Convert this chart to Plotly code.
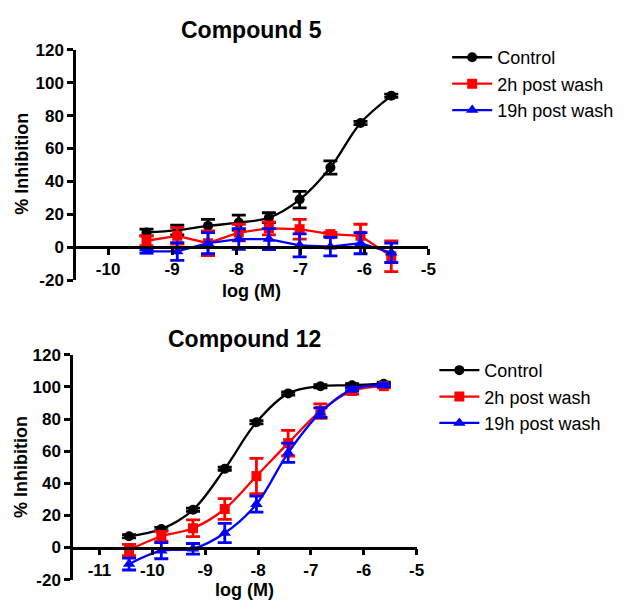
import plotly.graph_objects as go

# ---------------- data ----------------
series_names = ["Control", "2h post wash", "19h post wash"]
series_colors = ["#000000", "#ff0000", "#0000ff"]
series_symbols = ["circle", "square", "triangle-up"]

# Compound 5 (3-fold dilutions)
c5_logM = [-9.40, -8.92, -8.44, -7.96, -7.49, -7.01, -6.53, -6.06, -5.58]
c5_control = [9, 10.5, 13, 15, 18, 29, 48.5, 75.5, 92]
c5_control_err = [2, 3, 4, 4.5, 3, 5, 4, 1, 1]
c5_2h = [4, 7, 2.5, 9, 11.5, 11, 8, 7, -5.4]
c5_2h_err = [3, 5, 7.5, 5, 4, 6, 1, 7, 9.3]
c5_19h = [-2.5, -2.5, 2.5, 5, 5, 1.2, 0.4, 2.5, -3.3]
c5_19h_err = [1, 5.4, 6.4, 6.3, 6.4, 7, 5.6, 6.4, 5.9]

# Compound 12 (4-fold dilutions)
c12_logM = [-10.44, -9.83, -9.23, -8.63, -8.03, -7.43, -6.82, -6.22, -5.62]
c12_control = [7, 11.5, 23.5, 49, 78, 96, 100.5, 101, 102]
c12_control_err = [1, 1, 1, 1, 1, 1, 1, 1, 1]
c12_2h = [-1.5, 7, 12, 24, 44.5, 65, 85, 97.5, 100.5]
c12_2h_err = [3.5, 3, 5.2, 6.5, 11, 8, 4.5, 2, 1]
c12_19h = [-10.3, -2, -0.8, 9, 27, 59, 84, 98.5, 101]
c12_19h_err = [3.7, 5, 3.3, 6, 5, 6, 3, 1, 1]

y_ticks = [-20, 0, 20, 40, 60, 80, 100, 120]
y_ticktext = ["-20", "0", "20", "40", "60", "80", "100", "120"]
c5_xticks = [-10, -9, -8, -7, -6, -5]
c5_xticktext = ["-10", "-9", "-8", "-7", "-6", "-5"]
c12_xticks = [-11, -10, -9, -8, -7, -6, -5]
c12_xticktext = ["-11", "-10", "-9", "-8", "-7", "-6", "-5"]

# ---------------- layout geometry ----------------
W, H = 624, 609
FONT = "Arial, Liberation Sans, sans-serif"

def px_x(p):
    return p / W

def px_y(p):
    return 1 - p / H

top_xdom = [px_x(77), px_x(434)]
top_ydom = [px_y(280), px_y(42)]
bot_xdom = [px_x(74), px_x(422)]
bot_ydom = [px_y(589), px_y(357)]
y_range = [-20, 120]

def zero_pos(ydom):
    return ydom[0] + (0 - y_range[0]) / (y_range[1] - y_range[0]) * (ydom[1] - ydom[0])

fig = go.Figure()

top_sets = [(c5_control, c5_control_err, "spline"),
            (c5_2h, c5_2h_err, "linear"),
            (c5_19h, c5_19h_err, "linear")]
bot_sets = [(c12_control, c12_control_err, "spline"),
            (c12_2h, c12_2h_err, "spline"),
            (c12_19h, c12_19h_err, "spline")]

msize = [10, 10, 11]

for i, (vals, errs, shape) in enumerate(top_sets):
    fig.add_trace(go.Scatter(
        x=c5_logM, y=vals, name=series_names[i], mode="lines+markers",
        line=dict(color=series_colors[i], width=2.3, shape=shape, smoothing=1.0),
        marker=dict(symbol=series_symbols[i], size=msize[i], color=series_colors[i]),
        error_y=dict(type="data", array=errs, color=series_colors[i], thickness=2.8, width=7),
        xaxis="x", yaxis="y", legend="legend", cliponaxis=False,
    ))

for i, (vals, errs, shape) in enumerate(bot_sets):
    fig.add_trace(go.Scatter(
        x=c12_logM, y=vals, name=series_names[i], mode="lines+markers",
        line=dict(color=series_colors[i], width=2.3, shape=shape, smoothing=1.0),
        marker=dict(symbol=series_symbols[i], size=msize[i], color=series_colors[i]),
        error_y=dict(type="data", array=errs, color=series_colors[i], thickness=2.8, width=7),
        xaxis="x2", yaxis="y2", legend="legend2", cliponaxis=False,
    ))

tickfont = dict(family=FONT, size=17, color="black", weight="bold")
common_axis = dict(showgrid=False, zeroline=False, showline=True, linecolor="black",
                   linewidth=2.5, ticks="outside", ticklen=6, tickwidth=2.5,
                   tickcolor="black", tickfont=tickfont)

legend_font = dict(family=FONT, size=18, color="black")

fig.update_layout(
    width=W, height=H, margin=dict(l=0, r=0, t=0, b=0),
    paper_bgcolor="white", plot_bgcolor="white",
    font=dict(family=FONT, color="black"),
    xaxis=dict(domain=top_xdom, range=[-10.5, -5], tickvals=c5_xticks, ticktext=c5_xticktext,
               anchor="free", position=zero_pos(top_ydom), **common_axis),
    yaxis=dict(domain=top_ydom, range=y_range, tickvals=y_ticks, ticktext=y_ticktext,
               anchor="x", **common_axis),
    xaxis2=dict(domain=bot_xdom, range=[-11.5, -5], tickvals=c12_xticks, ticktext=c12_xticktext,
                anchor="free", position=zero_pos(bot_ydom), **common_axis),
    yaxis2=dict(domain=bot_ydom, range=y_range, tickvals=y_ticks, ticktext=y_ticktext,
                anchor="x2", **common_axis),
    legend=dict(x=px_x(453), y=px_y(31), xanchor="left", yanchor="top",
                font=legend_font, bgcolor="rgba(0,0,0,0)", itemwidth=40, tracegroupgap=0),
    legend2=dict(x=px_x(440), y=px_y(354), xanchor="left", yanchor="top",
                 font=legend_font, bgcolor="rgba(0,0,0,0)", itemwidth=40, tracegroupgap=0),
    showlegend=True,
)

title_font = dict(family=FONT, size=23, color="black", weight="bold")
axis_title_font = dict(family=FONT, size=18, color="black", weight="bold")
annotations = [
    dict(text="Compound 5", x=px_x(255), y=px_y(22), font=title_font),
    dict(text="Compound 12", x=px_x(248), y=px_y(341), font=title_font),
    dict(text="log (M)", x=px_x(255), y=px_y(291), font=axis_title_font),
    dict(text="log (M)", x=px_x(248), y=px_y(600), font=axis_title_font),
    dict(text="% Inhibition", x=px_x(22), y=px_y(160), font=axis_title_font, textangle=-90),
    dict(text="% Inhibition", x=px_x(22), y=px_y(473), font=axis_title_font, textangle=-90),
]
for a in annotations:
    fig.add_annotation(xref="paper", yref="paper", showarrow=False,
                       xanchor="center", yanchor="middle", **a)

fig.write_html("out.html")
